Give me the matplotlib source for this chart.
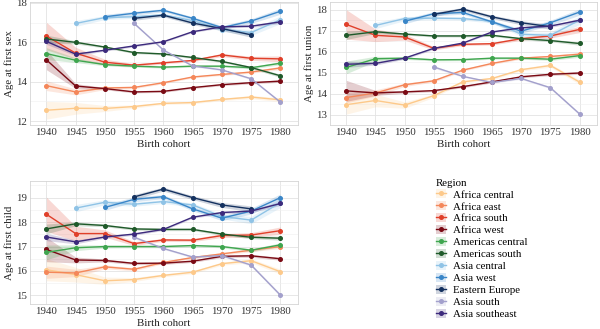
import matplotlib
matplotlib.use("Agg")
import matplotlib.pyplot as plt
from matplotlib.lines import Line2D
from matplotlib.patches import Patch
import numpy as np

plt.rcParams['font.family'] = ['Liberation Serif', 'DejaVu Serif']

cohorts = [1940, 1945, 1950, 1955, 1960, 1965, 1970, 1975, 1980]
regions = ['Africa central', 'Africa east', 'Africa south', 'Africa west',
           'Americas central', 'Americas south', 'Asia central', 'Asia west',
           'Eastern Europe', 'Asia south', 'Asia southeast']
colors = ['#fdc98a', '#f4875a', '#e0402a', '#7a0a14',
          '#3fa64f', '#1f5a2a', '#8fc3e6', '#3a86c8',
          '#14315f', '#a3a0cc', '#3c2a7c']

N = None
# age at first sex
sex = {
    'Africa central':   [12.55, 12.65, 12.64, 12.74, 12.9, 12.94, 13.1, 13.22, 13.08],
    'Africa east':      [13.8, 13.48, 13.68, 13.71, 13.95, 14.24, 14.37, 14.49, 14.7],
    'Africa south':     [16.32, 15.45, 14.99, 14.84, 14.96, 15.08, 15.36, 15.19, 15.16],
    'Africa west':      [15.11, 13.78, 13.65, 13.48, 13.51, 13.7, 13.85, 13.95, 14.03],
    'Americas central': [15.43, 15.09, 14.87, 14.79, 14.74, 14.79, 14.79, 14.71, 14.94],
    'Americas south':   [16.17, 16.0, 15.76, 15.48, 15.41, 15.23, 15.03, 14.72, 14.3],
    'Asia central':     [N, 16.96, 17.26, 17.3, 17.4, 17.1, 16.65, 16.5, 17.15],
    'Asia west':        [N, N, 17.3, 17.48, 17.63, 17.22, 16.75, 17.08, 17.58],
    'Eastern Europe':   [N, N, N, 17.22, 17.38, 16.98, 16.7, 16.38, N],
    'Asia south':       [N, N, N, 16.96, 15.61, 14.8, 14.6, 14.15, 12.96],
    'Asia southeast':   [16.05, 15.4, 15.6, 15.82, 16.03, 16.54, 16.79, 16.82, 17.04],
}
# age at first union
union = {
    'Africa central':   [13.47, 13.67, 13.45, 13.9, 14.56, 14.72, 15.14, 15.34, 14.55],
    'Africa east':      [13.81, 14.03, 14.42, 14.61, 15.12, 15.44, 15.69, 15.77, 15.88],
    'Africa south':     [17.3, 16.78, 16.7, 16.16, 16.35, 16.38, 16.62, 16.75, 17.06],
    'Africa west':      [14.13, 14.03, 14.08, 14.14, 14.33, 14.56, 14.8, 14.92, 14.98],
    'Americas central': [15.25, 15.66, 15.69, 15.61, 15.62, 15.69, 15.69, 15.64, 15.81],
    'Americas south':   [16.78, 16.95, 16.84, 16.75, 16.75, 16.78, 16.62, 16.53, 16.39],
    'Asia central':     [N, 17.25, 17.58, 17.6, 17.58, 17.45, 16.83, 16.78, 17.5],
    'Asia west':        [N, N, 17.45, 17.81, 17.87, 17.42, 16.98, 17.38, 17.89],
    'Eastern Europe':   [N, N, N, 17.78, 18.03, 17.66, 17.38, 17.19, N],
    'Asia south':       [N, N, N, 15.27, 14.82, 14.53, 14.72, 14.28, 13.03],
    'Asia southeast':   [15.4, 15.44, 15.69, 16.16, 16.41, 16.94, 17.14, 17.22, 17.5],
}
# age at first child
child = {
    'Africa central':   [16.05, 15.85, 15.6, 15.65, 15.82, 15.95, 16.3, 16.42, 15.97],
    'Africa east':      [15.95, 15.92, 16.17, 16.07, 16.35, 16.55, 16.7, 16.85, 17.0],
    'Africa south':     [18.32, 17.53, 17.53, 17.12, 17.27, 17.26, 17.45, 17.47, 17.65],
    'Africa west':      [16.88, 16.45, 16.43, 16.31, 16.32, 16.4, 16.6, 16.62, 16.5],
    'Americas central': [16.76, 16.95, 17.0, 17.0, 17.0, 17.04, 17.0, 16.85, 17.07],
    'Americas south':   [17.72, 17.93, 17.86, 17.72, 17.7, 17.7, 17.51, 17.38, 17.34],
    'Asia central':     [N, 18.57, 18.81, 18.73, 18.84, 18.7, 18.23, 18.08, 18.8],
    'Asia west':        [N, N, 18.6, 18.93, 19.04, 18.54, 18.16, 18.45, 19.0],
    'Eastern Europe':   [N, N, N, 19.03, 19.35, 19.0, 18.7, 18.54, N],
    'Asia south':       [N, N, N, 17.38, 16.92, 16.57, 16.63, 16.24, 15.01],
    'Asia southeast':   [17.39, 17.19, 17.39, 17.51, 17.7, 18.2, 18.39, 18.45, 18.76],
}
# half-width of the confidence band per region
band = {
    'Africa central':   [0.45, 0.3, 0.15, 0.08, 0.06, 0.06, 0.06, 0.08, 0.1],
    'Africa east':      [0.25, 0.15, 0.08, 0.06, 0.05, 0.05, 0.05, 0.06, 0.08],
    'Africa south':     [0.7, 0.3, 0.15, 0.08, 0.06, 0.06, 0.08, 0.1, 0.15],
    'Africa west':      [0.5, 0.12, 0.06, 0.05, 0.05, 0.05, 0.05, 0.06, 0.06],
    'Americas central': [0.3, 0.12, 0.06, 0.05, 0.05, 0.05, 0.05, 0.06, 0.08],
    'Americas south':   [0.2, 0.08, 0.05, 0.05, 0.05, 0.05, 0.05, 0.06, 0.08],
    'Asia central':     [0, 0.15, 0.1, 0.08, 0.08, 0.08, 0.1, 0.15, 0.2],
    'Asia west':        [0, 0, 0.12, 0.1, 0.08, 0.08, 0.1, 0.12, 0.15],
    'Eastern Europe':   [0, 0, 0, 0.1, 0.08, 0.08, 0.1, 0.12, 0],
    'Asia south':       [0, 0, 0, 0.06, 0.04, 0.04, 0.04, 0.05, 0.06],
    'Asia southeast':   [0.15, 0.08, 0.05, 0.05, 0.04, 0.04, 0.05, 0.06, 0.08],
}

fig = plt.figure(figsize=(6, 3.29), dpi=100)
W, H = 600, 329
FS = 7.8


def px_axes(l, t, r, b):
    return fig.add_axes([l / W, 1 - b / H, (r - l) / W, (b - t) / H])


def draw(ax, data, ylabel, ylim, major, minor):
    x = np.array(cohorts)
    for reg, col in zip(regions, colors):
        y = np.array([np.nan if v is None else v for v in data[reg]], dtype=float)
        hw = np.array(band[reg])
        ok = ~np.isnan(y)
        ax.fill_between(x[ok], y[ok] - hw[ok], y[ok] + hw[ok], color=col, alpha=0.2, lw=0, zorder=2)
        ax.plot(x[ok], y[ok], color=col, lw=1.0, marker='o', ms=2.6, zorder=3)
    ax.set_xlim(1937.2, 1983)
    ax.set_ylim(*ylim)
    ax.set_xticks(cohorts)
    ax.set_yticks(major)
    ax.set_yticks(minor, minor=True)
    ax.grid(True, which='major', color='#e3e3e3', lw=0.6, zorder=0)
    ax.grid(True, which='minor', axis='y', color='#efefef', lw=0.4, zorder=0)
    ax.set_axisbelow(True)
    for s in ax.spines.values():
        s.set_color('#d4d4d4')
        s.set_linewidth(0.6)
    ax.tick_params(which='both', length=0, labelsize=FS, colors='#333333', pad=2)
    ax.tick_params(axis='x', pad=2.5)
    ax.set_xlabel('Birth cohort', fontsize=FS, color='#222222', labelpad=2)
    ax.set_ylabel(ylabel, fontsize=FS, color='#222222', labelpad=1.5)


ax1 = px_axes(30, 2, 298, 125)
draw(ax1, sex, 'Age at first sex', (11.8, 18.05), [12, 14, 16, 18], [13, 15, 17])
ax2 = px_axes(330, 2, 597, 125)
draw(ax2, union, 'Age at first union', (12.63, 18.37), [13, 14, 15, 16, 17, 18],
     [12.5, 13.5, 14.5, 15.5, 16.5, 17.5])
ax3 = px_axes(30, 181, 298, 304)
draw(ax3, child, 'Age at first child', (14.65, 19.68), [15, 16, 17, 18, 19],
     [15.5, 16.5, 17.5, 18.5, 19.5])

handles = [(Patch(facecolor=c, alpha=0.2, lw=0),
            Line2D([], [], color=c, lw=1.0, marker='o', ms=2.6)) for c in colors]
fig.legend(handles, regions, loc='upper left', bbox_to_anchor=(428 / W, 1 - 171 / H),
           frameon=False, fontsize=FS, title='Region', title_fontsize=FS,
           alignment='left', handlelength=1.0, handleheight=0.9, handletextpad=0.6,
           labelspacing=0.16, borderpad=0.2)

fig.savefig('out.png', dpi=100)
